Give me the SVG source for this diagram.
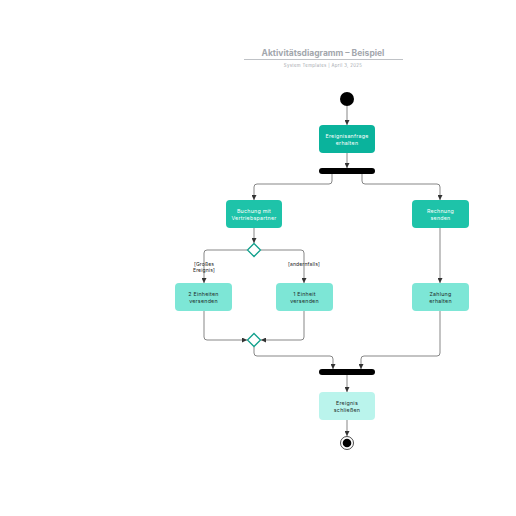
<svg xmlns="http://www.w3.org/2000/svg" width="516" height="516" viewBox="0 0 516 516">
<defs>
<marker id="ah" viewBox="0 0 10 10" refX="10" refY="5" markerWidth="5" markerHeight="5" orient="auto" markerUnits="userSpaceOnUse">
<path d="M0,0 L10,5 L0,10 z" fill="#333"/>
</marker>
<style>
text{font-family:Inter,"Liberation Sans",sans-serif;text-anchor:middle}
.c{fill:none;stroke:#555;stroke-width:0.7;marker-end:url(#ah)}
.t{font-size:5.3px;letter-spacing:0.25px}
.w{fill:#fff}
.d{fill:#1d2b2a}
.n1{fill:#0ab39c}
.n2{fill:#1ec3a9}
.n3{fill:#7de6d6}
.n4{fill:#baf4ec}
.dm{fill:#fff;stroke:#11a08c;stroke-width:1.3}
.g{font-size:5px;fill:#222;letter-spacing:0.15px}
</style>
</defs>
<rect width="516" height="516" fill="#fff"/>
<g id="title">
<text x="323" y="56" font-size="8.5" font-weight="bold" fill="#a3a7ad">Aktivitätsdiagramm – Beispiel</text>
<line x1="244" y1="59.5" x2="403" y2="59.5" stroke="#a3a7ad" stroke-width="0.7"/>
<text x="323" y="66.5" font-size="4.3" fill="#a3a7ad" letter-spacing="0.35">System Templates  |  April 3, 2025</text>
</g>
<g id="connectors">
<path class="c" d="M347,106 V125"/>
<path class="c" d="M347,153 V168"/>
<path class="c" d="M332,174 V181 Q332,184 329,184 H257 Q254,184 254,187 V200"/>
<path class="c" d="M362,174 V181 Q362,184 365,184 H437 Q440,184 440,187 V200"/>
<path class="c" d="M254,228 V243"/>
<path class="c" d="M247,250 H207 Q204,250 204,253 V283"/>
<path class="c" d="M261,250 H301 Q304,250 304,253 V283"/>
<path class="c" d="M440,228 V283"/>
<path class="c" d="M204,311 V337 Q204,340 207,340 H247"/>
<path class="c" d="M304,311 V337 Q304,340 301,340 H261"/>
<path class="c" d="M254,347 V353 Q254,356 257,356 H330 Q333,356 333,359 V369"/>
<path class="c" d="M440,311 V353 Q440,356 437,356 H364 Q361,356 361,359 V369"/>
<path class="c" d="M347,375 V392"/>
<path class="c" d="M347,420 V436"/>
</g>
<g id="start"><circle cx="347" cy="99" r="7" fill="#000"/></g>
<g id="n_anfrage">
<rect class="n1" x="319" y="125" width="56" height="28" rx="4"/>
<text class="t w" x="347" y="137.5">Ereignisanfrage</text>
<text class="t w" x="347" y="145">erhalten</text>
</g>
<g id="fork"><rect x="319" y="168" width="56" height="6" rx="3" fill="#000"/></g>
<g id="n_buchung">
<rect class="n2" x="226" y="200" width="56" height="28" rx="4"/>
<text class="t w" x="254" y="212.5">Buchung mit</text>
<text class="t w" x="254" y="220">Vertriebspartner</text>
</g>
<g id="n_rechnung">
<rect class="n2" x="412" y="200" width="57" height="28" rx="4"/>
<text class="t w" x="440.5" y="212.5">Rechnung</text>
<text class="t w" x="440.5" y="220">senden</text>
</g>
<g id="decision">
<path class="dm" d="M254,243.5 L260.5,250 L254,256.5 L247.5,250 Z"/>
</g>
<g id="guards">
<text class="g" x="204" y="265.5">[Großes</text>
<text class="g" x="204" y="271.5">Ereignis]</text>
<text class="g" x="304" y="265.5">[andernfalls]</text>
</g>
<g id="n_2einheiten">
<rect class="n3" x="175" y="283" width="57" height="28" rx="4"/>
<text class="t d" x="203.5" y="295.5">2 Einheiten</text>
<text class="t d" x="203.5" y="303">versenden</text>
</g>
<g id="n_1einheit">
<rect class="n3" x="276" y="283" width="57" height="28" rx="4"/>
<text class="t d" x="304.5" y="295.5">1 Einheit</text>
<text class="t d" x="304.5" y="303">versenden</text>
</g>
<g id="n_zahlung">
<rect class="n3" x="412" y="283" width="57" height="28" rx="4"/>
<text class="t d" x="440.5" y="295.5">Zahlung</text>
<text class="t d" x="440.5" y="303">erhalten</text>
</g>
<g id="merge">
<path class="dm" d="M254,333.5 L260.5,340 L254,346.5 L247.5,340 Z"/>
</g>
<g id="join"><rect x="319" y="369" width="56" height="6" rx="3" fill="#000"/></g>
<g id="n_schliessen">
<rect class="n4" x="319" y="392" width="56" height="28" rx="4"/>
<text class="t d" x="347" y="404.5">Ereignis</text>
<text class="t d" x="347" y="412">schließen</text>
</g>
<g id="end">
<circle cx="347" cy="443" r="6.5" fill="#fff" stroke="#000" stroke-width="0.7"/>
<circle cx="347" cy="443" r="4.3" fill="#000"/>
</g>
</svg>
